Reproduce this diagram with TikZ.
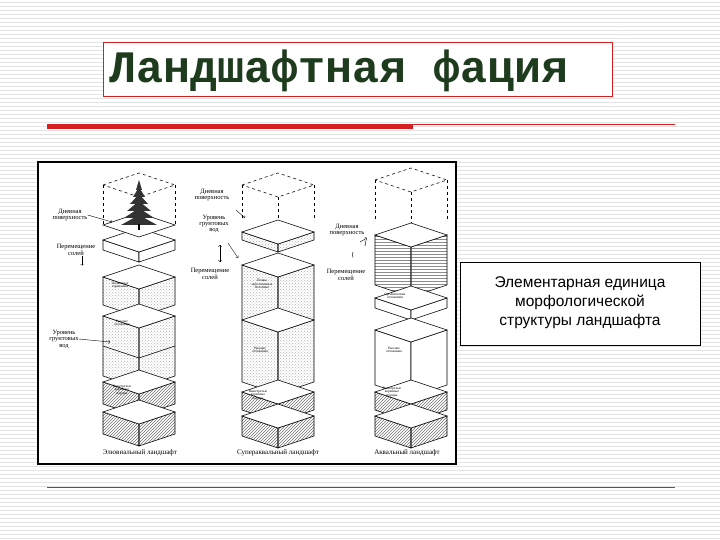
\documentclass[tikz,border=0pt]{standalone}
\usepackage{fontspec}
\setmainfont{Liberation Serif}
\newfontfamily\titlefont{Liberation Mono}
\newfontfamily\boxfont{Liberation Sans}
\usetikzlibrary{patterns}
\definecolor{titlegreen}{HTML}{1E3B1E}
\definecolor{slidered}{HTML}{D42020}
\definecolor{stripe}{HTML}{E4E4E4}
\tikzset{
  lbl/.style={font=\fontsize{6.5}{6.5}\selectfont, align=center, inner sep=0pt},
  tiny/.style={font=\fontsize{3.5}{3.5}\selectfont, align=center, inner sep=0pt},
  captext/.style={font=\fontsize{7}{7}\selectfont, inner sep=0pt},
  face/.style={draw=black, line width=0.6pt, fill=white},
  hatch/.style={pattern=north east lines, pattern color=black!55},
  dotty/.style={pattern=crosshatch dots, pattern color=black!30},
}
\newcommand{\blk}[4]{%
  \fill[white] (#1-36,#2)--(#1,#2+12)--(#1+36,#2)--(#1+36,#2+#3)--(#1,#2+12+#3)--(#1-36,#2+#3)--cycle;
  \draw[face,#4] (#1-36,#2)--(#1,#2+12)--(#1,#2+12+#3)--(#1-36,#2+#3)--cycle;
  \draw[face,#4] (#1+36,#2)--(#1,#2+12)--(#1,#2+12+#3)--(#1+36,#2+#3)--cycle;
  \draw[face] (#1-36,#2)--(#1,#2-12)--(#1+36,#2)--(#1,#2+12)--cycle;}
\newcommand{\dcube}[3]{%
  \draw[dashed,line width=0.5pt] (#1-36,#2)--(#1,#2-12)--(#1+36,#2)--(#1,#2+12)--cycle;
  \draw[dashed,line width=0.5pt] (#1-36,#2)--(#1-36,#2+#3) (#1+36,#2)--(#1+36,#2+#3) (#1,#2+12)--(#1,#2+12+#3);}
\begin{document}
\begin{tikzpicture}[x=1pt,y=-1pt]
\useasboundingbox (0,0) rectangle (720,540);
\fill[white] (0,0) rectangle (720,540);
\foreach \yy in {2,6,...,538} \draw[stripe,line width=0.6pt] (0,\yy)--(720,\yy);
% title
\node[draw=slidered,line width=0.5pt,fill=white,minimum width=509pt,minimum height=54pt,anchor=north west,inner sep=0pt] (titlebox) at (103,42) {};
\node[anchor=west,font=\titlefont\bfseries\fontsize{45}{45}\selectfont,text=titlegreen,inner sep=0pt] (title) at (109,71) {Ландшафтная фация};
\draw[slidered,line width=5pt] (47,127)--(413,127);
\draw[slidered,line width=0.6pt] (413,124.5)--(675,124.5);
\draw[slidered,line width=0.6pt] (47,487)--(675,487);
% figure frame
\node[draw=black,line width=2pt,fill=white,minimum width=418pt,minimum height=302pt,anchor=north west,inner sep=0pt] (frame) at (37,161) {};
% text box
\node[draw=black,line width=0.6pt,fill=white,minimum width=240pt,minimum height=83pt,anchor=north west,inner sep=0pt] (tbox) at (460,262) {};
\node[font=\boxfont\fontsize{15.5}{19}\selectfont,align=center] (ttext) at (580,303) {Элементарная единица\\морфологической\\структуры ландшафта};
% column 1
\dcube{139}{185}{40}
\blk{139}{240}{10}{}
\blk{139}{277}{28}{dotty}
\blk{139}{316}{60}{dotty}
\draw[line width=0.5pt] (103,346)--(139,358)--(175,346);
\blk{139}{382}{22}{hatch}
\blk{139}{412}{22}{hatch}
\draw[face] (103,225)--(139,213)--(175,225)--(139,237)--cycle;
\foreach \s/\w in {0/3,7/6,14/9,21/12,28/15,35/18} \fill[black!80] (139,180+\s)--(139-\w,180+\s+10)--(139+\w,180+\s+10)--cycle;
\draw[line width=1.2pt] (139,224)--(139,230);
\node[lbl] (d1) at (70,215) {Дневная\\поверхность};
\node[lbl] (p1) at (76,250) {Перемещение\\солей};
\node[lbl] (u1) at (64,339) {Уровень\\грунтовых\\вод};
\draw[->,line width=0.4pt] (u1.east)--(110,342);
\draw[->,line width=0.4pt] (d1.east)--(112,222);
\draw[->,line width=0.4pt] (p1.south)++(6,0)--++(0,10);
\node[tiny] (a1) at (120,285) {Почвенные\\горизонты};
\node[tiny] (b1) at (122,323) {Рыхлые\\отложения};
\node[tiny] (c1) at (122,390) {Выветрелые\\коренные\\породы};
\node[captext] (k1) at (140,453) {Элювиальный ландшафт};
% column 2
\dcube{278}{185}{36}
\blk{278}{232}{8}{dotty}
\blk{278}{265}{55}{dotty}
\blk{278}{320}{62}{dotty}
\blk{278}{392}{18}{hatch}
\blk{278}{416}{20}{hatch}
\node[lbl] (d2) at (212,195) {Дневная\\поверхность};
\node[lbl] (u2) at (214,224) {Уровень\\грунтовых\\вод};
\node[lbl] (p2) at (210,274) {Перемещение\\солей};
\draw[->,line width=0.4pt] (236,210)--(245,218);
\draw[->,line width=0.4pt] (228,243)--(238,258);
\draw[<->,line width=0.4pt] (220,245)--(220,262);
\node[tiny] (a2) at (262,284) {Почвы\\заболоченные\\болотные};
\node[tiny] (b2) at (260,350) {Рыхлые\\отложения};
\node[tiny] (c2) at (258,395) {Выветрелые\\коренные\\породы};
\node[captext] (k2) at (278,453) {Супераквальный ландшафт};
% column 3
\dcube{411}{180}{40}
\blk{411}{235}{50}{pattern=horizontal lines, pattern color=black!45}
\blk{411}{298}{10}{}
\blk{411}{330}{55}{}
\blk{411}{392}{18}{hatch}
\blk{411}{416}{20}{hatch}
\node[lbl] (d3) at (347,230) {Дневная\\поверхность};
\node[lbl] (p3) at (346,275) {Перемещение\\солей};
\draw[->,line width=0.4pt] (360,242)--(367,238);
\draw[line width=0.5pt] (353,252) arc (200:160:8) (365,246) arc (20:-20:8);
\node[tiny] (a3) at (395,296) {Органические\\отложения};
\node[tiny] (b3) at (394,350) {Рыхлые\\отложения};
\node[tiny] (c3) at (392,392) {Выветрелые\\коренные\\породы};
\node[captext] (k3) at (407,453) {Аквальный ландшафт};
\end{tikzpicture}
\end{document}
